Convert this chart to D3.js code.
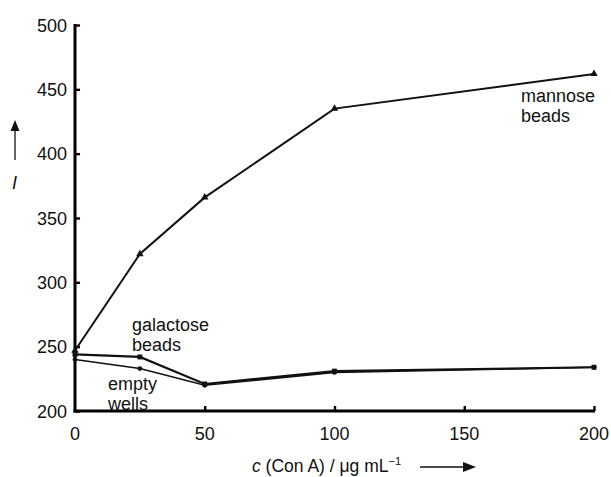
<!DOCTYPE html>
<html>
<head>
<meta charset="utf-8">
<script src="https://cdn.jsdelivr.net/npm/d3@7"></script>
<style>
  body { margin: 0; background: #fff; }
  text { font-family: "Liberation Sans", Arial, sans-serif; fill: #111; }
</style>
</head>
<body>
<div class="svg-container"></div>
<script>
// concentration of Con A (ug/mL)
var conc = [0, 25, 50, 100, 200];
var mannose = [247, 322, 366, 435, 462];
var galactose = [244, 242, 221, 231, 234];
var empty = [240, 233, 220, 230, 234];
var xTicks = [0, 50, 100, 150, 200];
var yTicks = [200, 250, 300, 350, 400, 450, 500];

var w = 611, h = 477;
var svg = d3.select(".svg-container").append("svg")
    .attr("width", w).attr("height", h);

var x = d3.scaleLinear().domain([0, 200]).range([75, 594]);
var y = d3.scaleLinear().domain([200, 500]).range([411, 25]);

var line = d3.line()
    .x(function(d, i) { return x(conc[i]); })
    .y(function(d) { return y(d); });

// axes
var yAxis = svg.append("g")
    .attr("transform", "translate(" + x(0) + ",0)")
    .call(d3.axisRight(y).tickValues(yTicks).tickSize(5).tickFormat(""));
yAxis.select(".domain").attr("stroke-width", 3).attr("d", "M0," + (y(500) - 1) + "V" + (y(200) + 1.5));
yAxis.selectAll(".tick line").attr("stroke-width", 2.4);

var xAxis = svg.append("g")
    .attr("transform", "translate(0," + y(200) + ")")
    .call(d3.axisTop(x).tickValues(xTicks.slice(1)).tickSize(5).tickFormat(""));
xAxis.select(".domain").attr("stroke-width", 3).attr("d", "M" + (x(0) - 1.5) + ",0H" + (x(200) + 1));
xAxis.selectAll(".tick line").attr("stroke-width", 2.4);

// tick labels
svg.selectAll(".ylab").data(yTicks).enter().append("text")
    .attr("x", 67).attr("y", function(d) { return y(d) + 6.5; })
    .attr("text-anchor", "end").attr("font-size", 18)
    .text(function(d) { return d; });
svg.selectAll(".xlab").data(xTicks).enter().append("text")
    .attr("x", function(d) { return x(d); }).attr("y", 440)
    .attr("text-anchor", "middle").attr("font-size", 18)
    .text(function(d) { return d; });

// series
function drawSeries(vals, width, marker) {
    svg.append("path").attr("d", line(vals))
        .attr("fill", "none").attr("stroke", "#111").attr("stroke-width", width);
    svg.selectAll(null).data(vals).enter().append("path")
        .attr("transform", function(d, i) { return "translate(" + x(conc[i]) + "," + y(d) + ")"; })
        .attr("d", d3.symbol().type(marker.type).size(marker.size))
        .attr("fill", "#111");
}
drawSeries(mannose, 2, {type: d3.symbolTriangle, size: 24});
drawSeries(galactose, 2.2, {type: d3.symbolSquare, size: 24});
drawSeries(empty, 1.6, {type: d3.symbolCircle, size: 18});

// series labels
function label(lines, lx, ly) {
    var t = svg.append("text").attr("x", lx).attr("y", ly).attr("font-size", 18);
    lines.forEach(function(s, i) {
        t.append("tspan").attr("x", lx).attr("dy", i ? 20 : 0).text(s);
    });
}
label(["mannose", "beads"], 521, 102);
label(["galactose", "beads"], 132, 331);
label(["empty", "wells"], 108, 390);

// y title with arrow
svg.append("text").attr("x", 12).attr("y", 189).attr("font-size", 18)
    .attr("font-style", "italic").text("I");
svg.append("line").attr("x1", 15).attr("x2", 15).attr("y1", 160).attr("y2", 128)
    .attr("stroke", "#111").attr("stroke-width", 1.3);
svg.append("path").attr("d", "M10.5,131L15,120L19.5,131Z").attr("fill", "#111");

// x title with arrow
var xt = svg.append("text").attr("x", 252).attr("y", 472).attr("font-size", 17.5);
xt.append("tspan").attr("font-style", "italic").text("c");
xt.append("tspan").text(" (Con A) / \u03bcg mL");
xt.append("tspan").attr("font-size", 11).attr("dy", -7).text("\u22121");
svg.append("line").attr("x1", 420).attr("x2", 465).attr("y1", 467).attr("y2", 467)
    .attr("stroke", "#111").attr("stroke-width", 1.3);
svg.append("path").attr("d", "M463,462L476,467L463,472Z").attr("fill", "#111");
</script>
</body>
</html>
